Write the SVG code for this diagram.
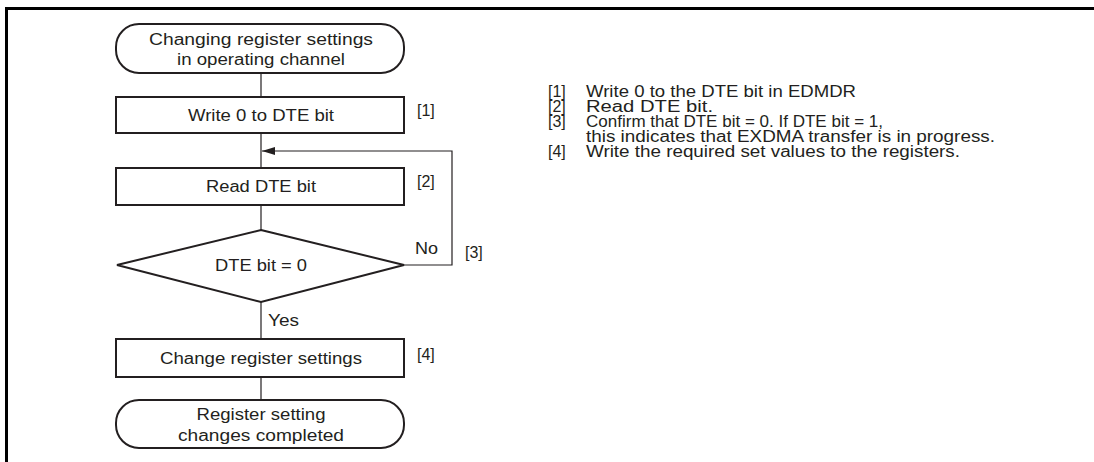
<svg xmlns="http://www.w3.org/2000/svg" width="1094" height="462" viewBox="0 0 1094 462">
<defs>
<style>
text{font-family:"Liberation Sans",Arial,sans-serif;font-size:16px;fill:#231f20}
.c{text-anchor:middle}
.box{fill:#fff;stroke:#231f20;stroke-width:2}
.ln{fill:none;stroke:#231f20;stroke-width:1.2}
</style>
<marker id="ah" viewBox="0 0 13 8" refX="13" refY="4" markerWidth="13" markerHeight="8" markerUnits="userSpaceOnUse" orient="auto">
<path d="M0,0 L13,4 L0,8 Z" fill="#231f20"/>
</marker>
</defs>
<rect width="1094" height="462" fill="#fff"/>
<g id="frame">
<line x1="5" y1="8.5" x2="1094" y2="8.5" stroke="#000" stroke-width="3"/>
<line x1="6.5" y1="7" x2="6.5" y2="462" stroke="#000" stroke-width="3"/>
</g>
<g id="connectors">
<line class="ln" x1="261" y1="73" x2="261" y2="97"/>
<line class="ln" x1="261" y1="133" x2="261" y2="168"/>
<line class="ln" x1="261" y1="205" x2="261" y2="230"/>
<line class="ln" x1="261" y1="302" x2="261" y2="339"/>
<line class="ln" x1="261" y1="377" x2="261" y2="400"/>
<polyline class="ln" points="404,265 452,265 452,151 262,151" marker-end="url(#ah)"/>
<text x="415" y="254" textLength="23" lengthAdjust="spacingAndGlyphs">No</text>
<text x="268" y="326" textLength="31" lengthAdjust="spacingAndGlyphs">Yes</text>
</g>
<g id="start">
<rect class="box" x="116" y="24" width="288" height="49" rx="23" ry="23"/>
<text class="c" x="261" y="45" textLength="224" lengthAdjust="spacingAndGlyphs">Changing register settings</text>
<text class="c" x="261" y="65" textLength="168" lengthAdjust="spacingAndGlyphs">in operating channel</text>
</g>
<g id="step1">
<rect class="box" x="116" y="97" width="288" height="36"/>
<text class="c" x="261" y="121" textLength="146" lengthAdjust="spacingAndGlyphs">Write 0 to DTE bit</text>
<text x="417" y="116">[1]</text>
</g>
<g id="step2">
<rect class="box" x="116" y="168" width="288" height="37"/>
<text class="c" x="261" y="192" textLength="110" lengthAdjust="spacingAndGlyphs">Read DTE bit</text>
<text x="417" y="187">[2]</text>
</g>
<g id="decision">
<polygon class="box" points="261,230 404,265 261,302 117,265"/>
<text class="c" x="261" y="271" textLength="92" lengthAdjust="spacingAndGlyphs">DTE bit = 0</text>
<text x="465" y="258">[3]</text>
</g>
<g id="step4">
<rect class="box" x="116" y="339" width="288" height="38"/>
<text class="c" x="261" y="364" textLength="202" lengthAdjust="spacingAndGlyphs">Change register settings</text>
<text x="417" y="360">[4]</text>
</g>
<g id="end">
<rect class="box" x="116" y="400" width="288" height="48" rx="23" ry="23"/>
<text class="c" x="261" y="420" textLength="129" lengthAdjust="spacingAndGlyphs">Register setting</text>
<text class="c" x="261" y="441" textLength="166" lengthAdjust="spacingAndGlyphs">changes completed</text>
</g>
<g id="notes">
<text x="548" y="97">[1]</text>
<text x="586" y="97" textLength="270" lengthAdjust="spacingAndGlyphs">Write 0 to the DTE bit in EDMDR</text>
<text x="548" y="112">[2]</text>
<text x="586" y="112" textLength="127" lengthAdjust="spacingAndGlyphs">Read DTE bit.</text>
<text x="548" y="127">[3]</text>
<text x="586" y="127" textLength="297" lengthAdjust="spacingAndGlyphs">Confirm that DTE bit = 0. If DTE bit = 1,</text>
<text x="586" y="142" textLength="409" lengthAdjust="spacingAndGlyphs">this indicates that EXDMA transfer is in progress.</text>
<text x="548" y="157">[4]</text>
<text x="586" y="157" textLength="374" lengthAdjust="spacingAndGlyphs">Write the required set values to the registers.</text>
</g>
</svg>
